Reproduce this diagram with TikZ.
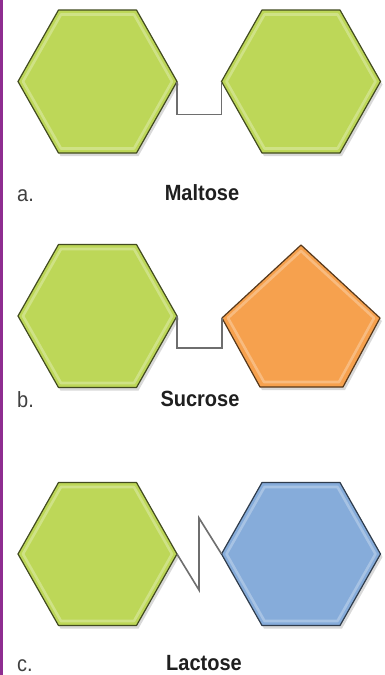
\documentclass[tikz,border=0pt]{standalone}
\usepackage{fontspec}
\setmainfont{Liberation Sans}
\definecolor{sgreen}{RGB}{189,215,88}
\definecolor{sorange}{RGB}{246,161,78}
\definecolor{sblue}{RGB}{134,172,218}
\definecolor{purp}{RGB}{142,45,144}
\definecolor{connc}{RGB}{110,110,110}
\tikzset{
  conn/.style={draw=connc,line width=1.6pt,line join=miter},
  lbl/.style={anchor=base west,font=\fontsize{20}{22}\selectfont,text=black!75,inner sep=0pt,yscale=1.1},
  ttl/.style={anchor=base,font=\fontsize{20}{22}\selectfont\bfseries,text=black!88,inner sep=0pt,yscale=1.1}
}
\newcommand\myhex[4]{%
  \begin{scope}[shift={(#2,#3)}]
    \fill[black,opacity=.15] (-77.5,3) -- (-37,-68.5) -- (41,-68.5) -- (81.5,3) -- (41,74.5) -- (-37,74.5) -- cycle;
    \filldraw[fill=#4,draw=#4!35!black,line width=1.2pt,line join=round]
      (-79.5,0) coordinate (#1L) -- (-39,-71.5) -- (39,-71.5) -- (79.5,0) coordinate (#1R)
      -- (39,71.5) -- (-39,71.5) -- cycle;
    \draw[white,opacity=.28,line width=2.6pt,line join=round]
      (-74.5,0) -- (-36.5,-67) -- (36.5,-67) -- (74.5,0) -- (36.5,67) -- (-36.5,67) -- cycle;
  \end{scope}}
\newcommand\mypent[4]{%
  \begin{scope}[shift={(#2,#3)}]
    \fill[black,opacity=.15] (2,-68) -- (81,5) -- (44,74) -- (-39,74) -- (-77,5) -- cycle;
    \filldraw[fill=#4,draw=#4!35!black,line width=1.2pt,line join=round]
      (0,-71) -- (79,2) coordinate (#1R) -- (42,71) -- (-41,71) -- (-79,2) coordinate (#1L) -- cycle;
    \draw[white,opacity=.28,line width=2.6pt,line join=round]
      (0,-65) -- (73,2) -- (38,66) -- (-37,66) -- (-73,2) -- cycle;
  \end{scope}}
\begin{document}
\begin{tikzpicture}[x=1pt,y=-1pt]
\useasboundingbox (0,0) rectangle (385,675);
\fill[white] (0,0) rectangle (385,675);
\fill[purp] (0,0) rectangle (3,675);

% a. Maltose
\myhex{aone}{97.5}{81.5}{sgreen}
\myhex{atwo}{301}{81.5}{sgreen}
\draw[conn] (aoneR) -- ++(0,33) -| (atwoL);
\node[lbl] (la) at (17,201) {a.};
\node[ttl] (ta) at (202,200) {Maltose};

% b. Sucrose
\myhex{bone}{97.5}{316}{sgreen}
\mypent{btwo}{301}{316}{sorange}
\draw[conn] (boneR) -- ++(0,32) -| (btwoL);
\node[lbl] (lb) at (17,407) {b.};
\node[ttl] (tb) at (200,406) {Sucrose};

% c. Lactose
\myhex{cone}{97.5}{554}{sgreen}
\myhex{ctwo}{301}{554}{sblue}
\draw[conn] (coneR) -- ++(22,36) -- ++(0,-72) -- (ctwoL);
\node[lbl] (lc) at (17,671) {c.};
\node[ttl] (tc) at (204,670) {Lactose};
\end{tikzpicture}
\end{document}
